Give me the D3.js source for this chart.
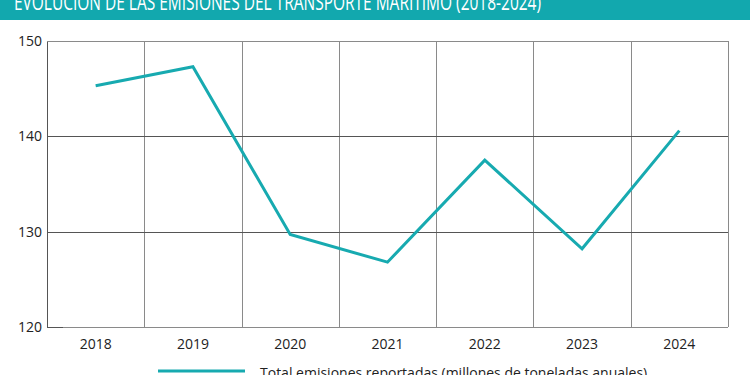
<!DOCTYPE html>
<html><head><meta charset="utf-8">
<script src="https://cdn.jsdelivr.net/npm/d3@7"></script>
<style>body{margin:0;background:#fff;}svg{display:block;}</style>
</head><body>
<script>
const years = ["2018","2019","2020","2021","2022","2023","2024"];
const emissions = [145.3, 147.3, 129.7, 126.8, 137.5, 128.2, 140.6];
const yTicks = [120, 130, 140, 150];
const title = "EVOLUCIÓN DE LAS EMISIONES DEL TRANSPORTE MARÍTIMO (2018-2024)";
const legendLabel = "Total emisiones reportadas (millones de toneladas anuales)";

const W = 750, H = 375;
const m = {left: 47, right: 22, top: 41, bottom: 48};
const teal = "#17aab0";
const svg = d3.select("body").append("svg").attr("width", W).attr("height", H);

svg.append("rect").attr("x",0).attr("y",0).attr("width",W).attr("height",20).attr("fill","#12a8ae");
svg.append("text").attr("x",14).attr("y",10).attr("fill","#fff")
  .style("font-family","'Open Sans',sans-serif").style("font-size","21px")
  .attr("textLength",527).attr("lengthAdjust","spacingAndGlyphs")
  .text(title);

const x = d3.scaleBand().domain(years).range([m.left, W - m.right]).padding(0);
const y = d3.scaleLinear().domain([120,150]).range([H - m.bottom, m.top]);

const g = svg.append("g");
const bounds = years.map(d => x(d)).concat([x.range()[1]]);
g.selectAll("line.v").data(bounds).join("line")
  .attr("x1", d=>Math.round(d)+0.5).attr("x2", d=>Math.round(d)+0.5)
  .attr("y1", y(150)).attr("y2", y(120))
  .attr("stroke", (d,i)=> i===0 ? "#555" : "#8a8a8a").attr("stroke-width",1);
g.selectAll("line.h").data(yTicks).join("line")
  .attr("x1", m.left).attr("x2", W - m.right)
  .attr("y1", d=>Math.round(y(d))+0.5).attr("y2", d=>Math.round(y(d))+0.5)
  .attr("stroke", d => (d===120||d===150) ? "#8a8a8a" : "#555").attr("stroke-width",1);
g.append("line").attr("x1",m.left).attr("x2",m.left+16)
  .attr("y1",Math.round(y(120))+0.5).attr("y2",Math.round(y(120))+0.5).attr("stroke","#555");

const font = "'Open Sans', sans-serif";
svg.selectAll("text.yt").data(yTicks).join("text")
  .attr("x", 42).attr("y", d=>y(d)+5).attr("text-anchor","end")
  .style("font-family",font).style("font-size","14px").attr("fill","#222").text(d=>d);
svg.selectAll("text.xt").data(years).join("text")
  .attr("x", d=>x(d)+x.bandwidth()/2).attr("y", 349).attr("text-anchor","middle")
  .style("font-family",font).style("font-size","14px").attr("fill","#222").text(d=>d);

const line = d3.line().x((d,i)=>x(years[i])+x.bandwidth()/2).y(d=>y(d));
svg.append("path").datum(emissions).attr("d", line).attr("fill","none")
  .attr("stroke", teal).attr("stroke-width",3).attr("stroke-linejoin","miter");

svg.append("line").attr("x1",158).attr("x2",245).attr("y1",371).attr("y2",371)
  .attr("stroke",teal).attr("stroke-width",3);
svg.append("text").attr("x",260).attr("y",378)
  .style("font-family",font).style("font-size","14px").attr("fill","#222").text(legendLabel);
</script>
</body></html>
